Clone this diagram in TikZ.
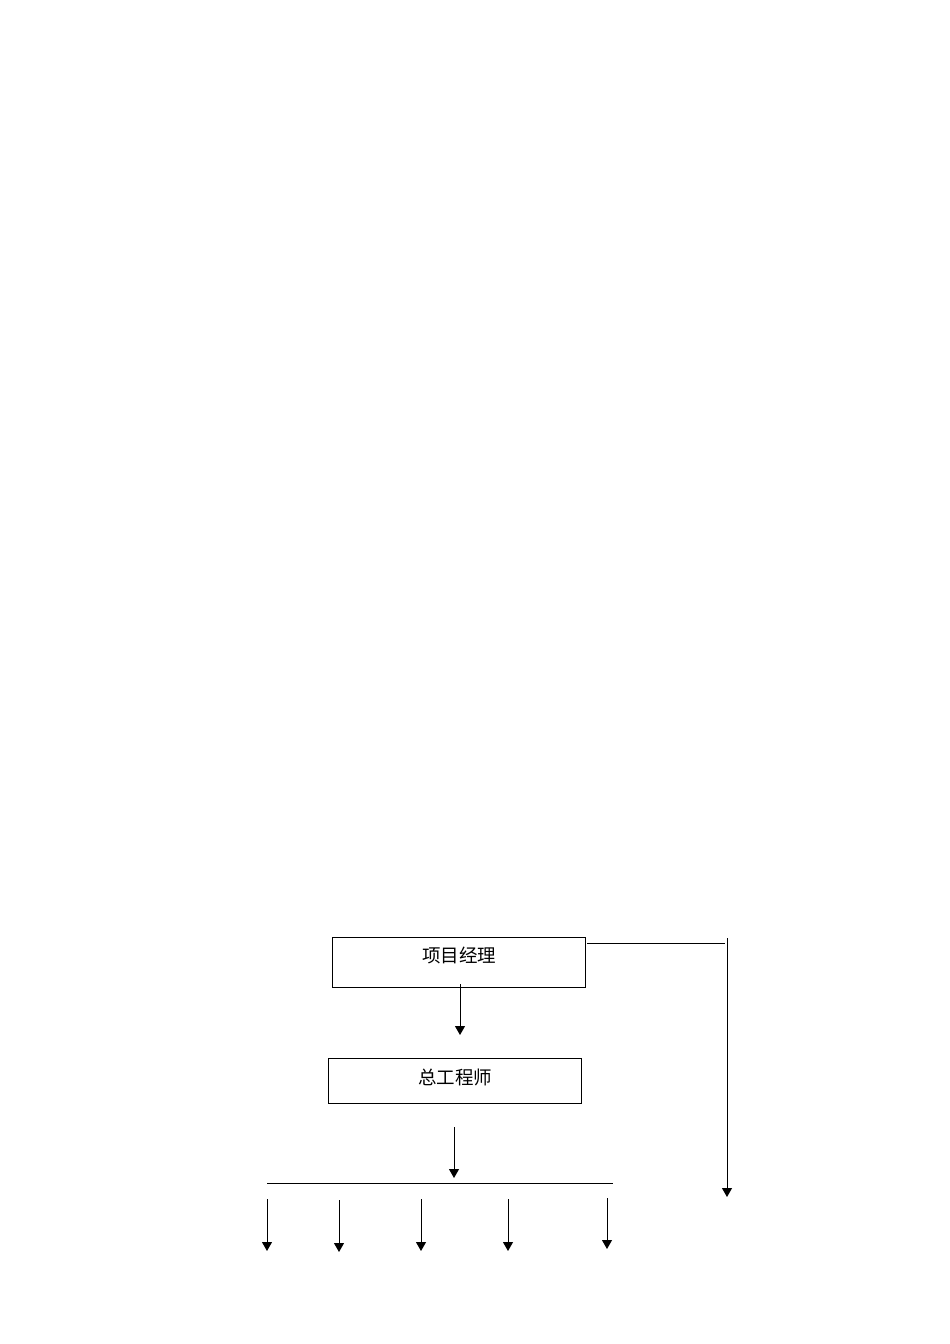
\documentclass[tikz,border=0pt]{standalone}
\usepackage{fontspec}
\newfontfamily\cjk{Noto Sans CJK SC}
\usetikzlibrary{arrows.meta}
\begin{document}
\begin{tikzpicture}[x=1pt,y=-1pt,
  box/.style={draw, line width=1pt, inner sep=0pt, anchor=north west},
  lbl/.style={font=\cjk\fontsize{18.5}{22}\selectfont, inner sep=0pt},
  arr/.style={line width=1pt, -{Triangle[width=10pt,length=9pt]}},
  thin/.style={line width=0.7pt}]
\fill[white] (0,0) rectangle (950,1344);
\useasboundingbox (0,0) rectangle (950,1344);
% boxes
\node[box, minimum width=253pt, minimum height=50pt] (b1) at (332,937) {};
\node[lbl] (t1) at (459,955) {项目经理};
\node[box, minimum width=253pt, minimum height=45pt] (b2) at (328,1058) {};
\node[lbl] (t2) at (455,1077) {总工程师};
% coordinates
\coordinate (a1s) at (460,984);
\coordinate (a1e) at (460,1035);
\coordinate (a2s) at (454,1127);
\coordinate (a2e) at (454,1178);
\coordinate (hl) at (267,1183);
\coordinate (hr) at (613,1183);
\coordinate (rs) at (587,943);
\coordinate (re) at (725,943);
\coordinate (vs) at (727,938);
\coordinate (ve) at (727,1197);
\foreach \i/\x/\ya/\yb in {1/267/1199/1251, 2/339/1200/1252, 3/421/1199/1251, 4/508/1199/1251, 5/607/1198/1249}{
  \coordinate (p\i s) at (\x,\ya);
  \coordinate (p\i e) at (\x,\yb);
}
% connectors
\draw[arr] (a1s) -- (a1e);
\draw[arr] (a2s) -- (a2e);
\draw[line width=1pt] (hl) -- (hr);
\draw[thin] (rs) -- (re);
\draw[arr] (vs) -- (ve);
\foreach \i in {1,...,5}{
  \draw[arr] (p\i s) -- (p\i e);
}
\end{tikzpicture}
\end{document}
